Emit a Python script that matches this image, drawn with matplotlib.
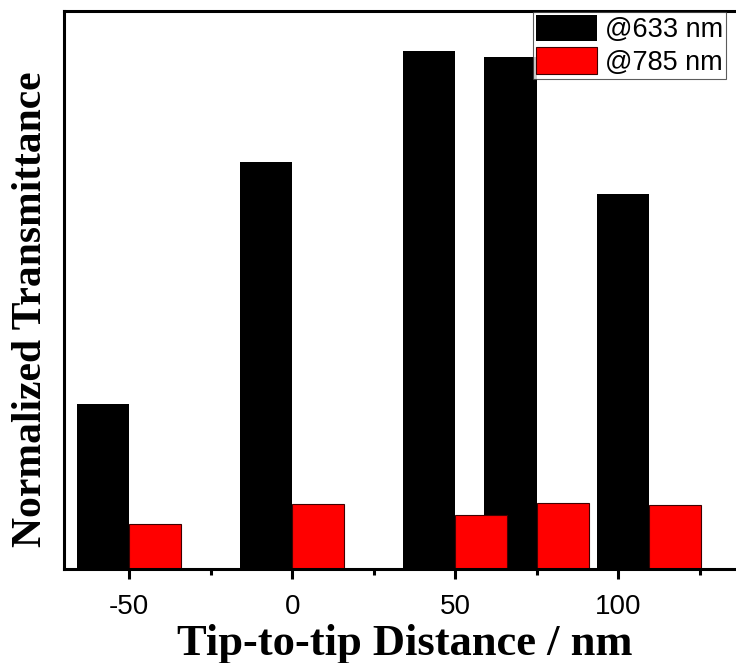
import matplotlib.pyplot as plt
import numpy as np
from matplotlib.ticker import FixedLocator

plt.rcParams["axes.unicode_minus"] = False

# distanze punta-punta (nm)
distances = [-50, 0, 50, 75, 109.5]
# trasmittanza normalizzata
trans_633 = [0.296, 0.729, 0.928, 0.918, 0.672]
trans_785 = [0.081, 0.116, 0.096, 0.119, 0.115]
labels = ["@633 nm", "@785 nm"]
major_ticks = [-50, 0, 50, 100]
minor_ticks = [-25, 25, 75, 125]

bar_w = 16
x = np.array(distances)

fig = plt.figure(figsize=(7.36, 6.63), dpi=100)
ax = fig.add_axes([64 / 736, 94 / 663, 717 / 736, 558 / 663])

ax.bar(x - bar_w / 2, trans_633, width=bar_w, color="black", label=labels[0])
ax.bar(x + bar_w / 2, trans_785, width=bar_w, color="red",
       edgecolor="#400000", linewidth=0.8, label=labels[1])

ax.set_xlim(-70, 150)
ax.set_ylim(0, 1)

ax.xaxis.set_major_locator(FixedLocator(major_ticks))
ax.xaxis.set_minor_locator(FixedLocator(minor_ticks))
ax.tick_params(axis="x", which="major", direction="out", length=7, width=2.2,
               pad=11, labelsize=20)
ax.tick_params(axis="x", which="minor", direction="out", length=4, width=2.2)
ax.tick_params(axis="y", which="both", left=False, labelleft=False)
for lab in ax.get_xticklabels():
    lab.set_fontfamily("Liberation Sans")

for s in ["left", "bottom", "top"]:
    ax.spines[s].set_linewidth(2.2)
ax.spines["right"].set_visible(False)

ax.set_xlabel("Tip-to-tip Distance / nm", fontfamily="Liberation Serif",
              fontweight="bold", fontsize=32)
ax.set_ylabel("Normalized Transmittance", fontfamily="Liberation Serif",
              fontweight="bold", fontsize=30)
ax.xaxis.set_label_coords(0.475, -0.098)
ax.yaxis.set_label_coords(-0.019, 0.466)

leg = fig.legend(loc="upper left", bbox_to_anchor=(533 / 736, 1 - 12 / 663),
                 frameon=True, fancybox=False, borderaxespad=0,
                 prop={"family": "Liberation Sans", "size": 19.5},
                 handlelength=2.25, handleheight=1.11, labelspacing=0.15,
                 handletextpad=0.3, borderpad=0.11)
leg.get_frame().set_edgecolor("#333333")
leg.get_frame().set_linewidth(0.8)

fig.savefig("out.png", dpi=100)
